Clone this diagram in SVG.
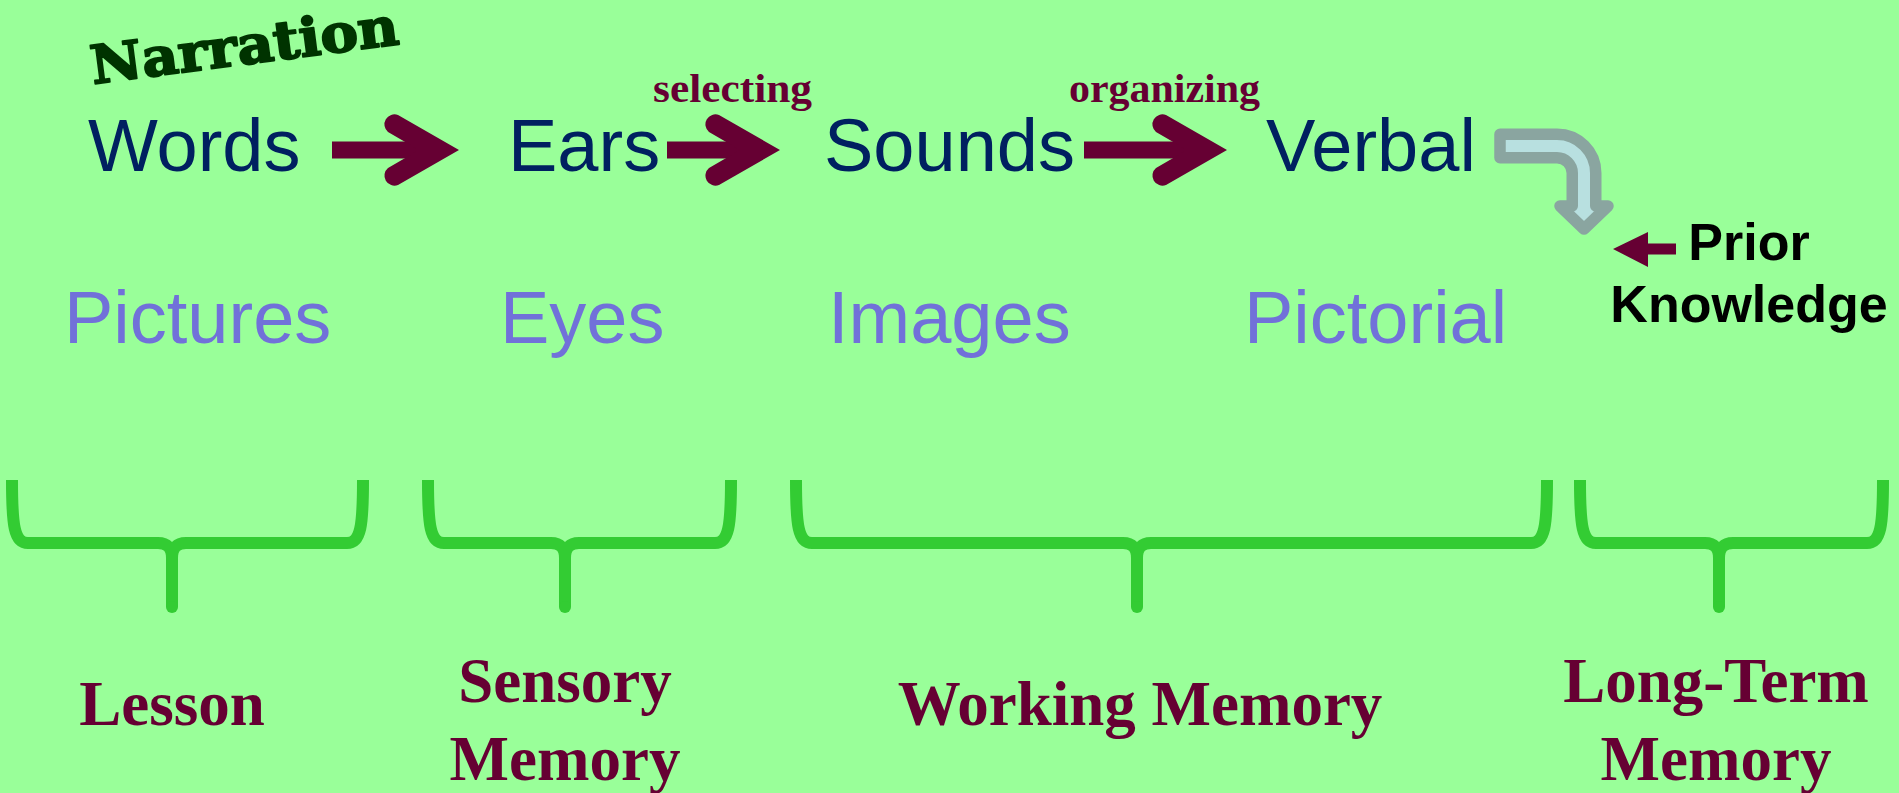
<svg xmlns="http://www.w3.org/2000/svg" width="1899" height="793" viewBox="0 0 1899 793">
  <defs>
    <style>
      .stage { font-family: "Liberation Sans", Arial, sans-serif; font-size: 74px; fill: #002060; }
      .picto { font-family: "Liberation Sans", Arial, sans-serif; font-size: 74px; fill: #7171d9; }
      .proc { font-family: "Liberation Serif", "Times New Roman", serif; font-size: 39px; font-weight: bold; fill: #660033; }
      .mem { font-family: "Liberation Serif", "Times New Roman", serif; font-size: 63px; font-weight: bold; fill: #660033; text-anchor: middle; }
      .prior { font-family: "Liberation Sans", Arial, sans-serif; font-size: 52px; font-weight: bold; fill: #000000; text-anchor: middle; }
      .brace { fill: none; stroke: #33cc33; stroke-width: 12; stroke-linecap: butt; stroke-linejoin: round; }
      .arrow { fill: #660033; }
    </style>
    <!-- thick arrow head, tip at origin -->
    <path id="chevron" d="M0,0 L-61,-35 A10 10 0 0 0 -71,-18 L-40,0 L-71,18 A10 10 0 0 0 -61,35 Z"/>
  </defs>

  <rect width="1899" height="793" fill="#99ff99"/>

  <text x="93" y="84" transform="rotate(-7.4 93 84)" font-family="'DejaVu Serif', serif" font-weight="bold" font-size="53" fill="#003300" stroke="#003300" stroke-width="2" stroke-linejoin="round" textLength="310" lengthAdjust="spacingAndGlyphs">Narration</text>

  <!-- verbal channel -->
  <g id="words"><text class="stage" x="88" y="171">Words</text></g>
  <g id="ears"><text class="stage" x="508" y="171">Ears</text></g>
  <g id="sounds"><text class="stage" x="824" y="171">Sounds</text></g>
  <g id="verbal"><text class="stage" x="1266" y="171">Verbal</text></g>

  <!-- pictorial channel -->
  <g id="pictures"><text class="picto" x="64" y="343">Pictures</text></g>
  <g id="eyes"><text class="picto" x="500" y="343">Eyes</text></g>
  <g id="images"><text class="picto" x="828" y="343">Images</text></g>
  <g id="pictorial"><text class="picto" x="1244" y="343">Pictorial</text></g>

  <g id="prior-knowledge">
    <text class="prior" x="1749" y="260">Prior</text>
    <text class="prior" x="1749" y="322">Knowledge</text>
  </g>

  <g id="connectors">
    <g class="arrow">
      <rect x="332" y="141.5" width="95" height="17"/>
      <use href="#chevron" x="459" y="150"/>
      <rect x="667" y="141.5" width="80" height="17"/>
      <use href="#chevron" x="780" y="150"/>
      <rect x="1084" y="141.5" width="110" height="17"/>
      <use href="#chevron" x="1227" y="150"/>
      <path d="M1613,249 L1648,232 L1648,243.5 L1676,243.5 L1676,254.5 L1648,254.5 L1648,267 Z"/>
    </g>
    <text class="proc" x="653" y="102" textLength="159" lengthAdjust="spacingAndGlyphs">selecting</text>
    <text class="proc" x="1069" y="102" textLength="191" lengthAdjust="spacingAndGlyphs">organizing</text>

    <!-- bent arrow from Verbal down to long-term memory -->
    <path d="M1500,134.25 H1557 A38.75 38.75 0 0 1 1595.75,173 V206 H1608 L1584,229 L1560,206 H1572.25 V173 A15.25 15.25 0 0 0 1557,157.75 H1500 Z" fill="#b8e0e0" stroke="#8aa5a0" stroke-width="11.5" stroke-linejoin="round"/>
  </g>

  <!-- braces -->
  <g id="brace-lesson">
    <path class="brace" d="M12,480 C12,525 14,543 28,543 H158 Q172,543 172,558 V607 M363,480 C363,525 361,543 347,543 H186 Q172,543 172,558"/>
    <circle cx="172" cy="607" r="6" fill="#33cc33"/>
    <text class="mem" x="172" y="725">Lesson</text>
  </g>
  <g id="brace-sensory">
    <path class="brace" d="M428,480 C428,525 430,543 444,543 H551 Q565,543 565,558 V607 M731,480 C731,525 729,543 715,543 H579 Q565,543 565,558"/>
    <circle cx="565" cy="607" r="6" fill="#33cc33"/>
    <text class="mem" x="565" y="702">Sensory</text>
    <text class="mem" x="565" y="780">Memory</text>
  </g>
  <g id="brace-working">
    <path class="brace" d="M796,480 C796,525 798,543 812,543 H1123 Q1137,543 1137,558 V607 M1547,480 C1547,525 1545,543 1531,543 H1151 Q1137,543 1137,558"/>
    <circle cx="1137" cy="607" r="6" fill="#33cc33"/>
    <text class="mem" x="1140" y="725">Working Memory</text>
  </g>
  <g id="brace-longterm">
    <path class="brace" d="M1580,480 C1580,525 1582,543 1596,543 H1705 Q1719,543 1719,558 V607 M1883,480 C1883,525 1881,543 1867,543 H1733 Q1719,543 1719,558"/>
    <circle cx="1719" cy="607" r="6" fill="#33cc33"/>
    <text class="mem" x="1716" y="702">Long-Term</text>
    <text class="mem" x="1716" y="780">Memory</text>
  </g>
</svg>
